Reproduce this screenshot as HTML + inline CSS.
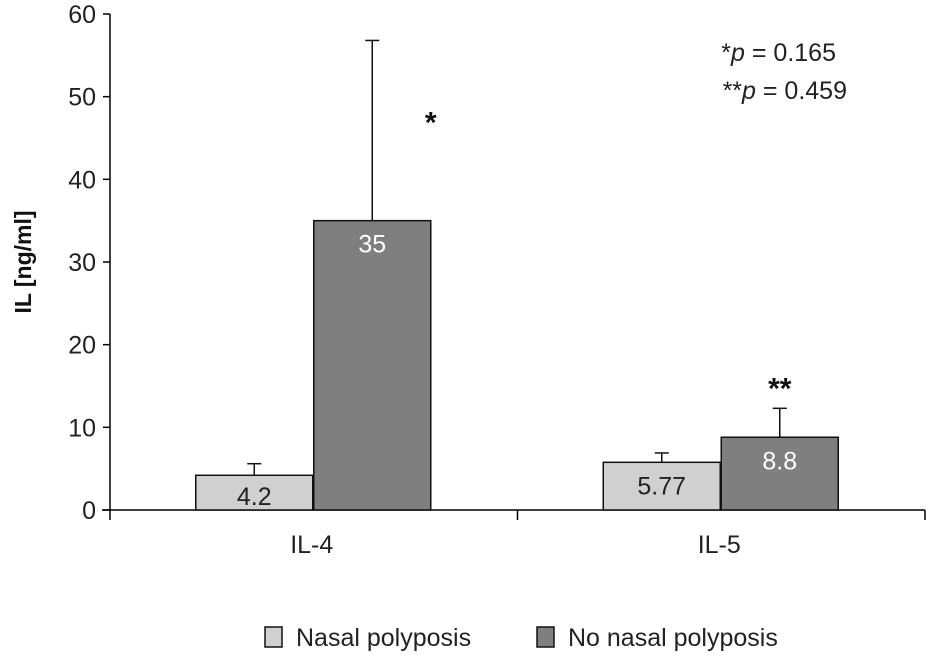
<!DOCTYPE html>
<html><head><meta charset="utf-8"><style>
body{margin:0;background:#fff;}
svg text{font-family:"Liberation Sans",sans-serif;}
</style></head><body>
<svg id="chart" width="928" height="655" xmlns="http://www.w3.org/2000/svg"></svg>
<script>
const categories = ["IL-4", "IL-5"];
const seriesNames = ["Nasal polyposis", "No nasal polyposis"];
const nasalValues = [4.2, 5.77];
const noNasalValues = [35, 8.8];
const nasalErr = [5.6, 6.9];
const noNasalErr = [56.8, 12.3];
const valueLabels = [["4.2", "5.77"], ["35", "8.8"]];
const sigMarks = ["*", "**"];
const yTicks = [0, 10, 20, 30, 40, 50, 60];

const svg = document.getElementById('chart');
const NS = 'http://www.w3.org/2000/svg';
const X0 = 110, X1 = 925, Y0 = 510, Y1 = 14;
const y = v => Y0 - (v / 60) * (Y0 - Y1);
const groupW = (X1 - X0) / categories.length;
const barW = 117;
const colors = ["#d0d0d0", "#7f7f7f"];
const FS = 25;
function el(tag, attrs, text) {
  const e = document.createElementNS(NS, tag);
  for (const k in attrs) e.setAttribute(k, attrs[k]);
  if (text !== undefined) e.textContent = text;
  svg.appendChild(e);
  return e;
}
let a = el('line', {x1: X0, y1: Y1, x2: X0, y2: Y0 + 1, stroke: '#000', 'stroke-width': 1.5});


a = el('line', {x1: X0 - 8, y1: Y0, x2: X1, y2: Y0, stroke: '#000', 'stroke-width': 1.5});


yTicks.forEach(t => {
  const tk = el('line', {x1: X0 - 7, y1: y(t), x2: X0, y2: y(t), stroke: '#000', 'stroke-width': 1.5});
  
  
  const lb = el('text', {x: X0 - 14, y: y(t) + 9, 'text-anchor': 'end', 'font-size': FS, fill: '#222'}, t);
  
  
});
for (let i = 0; i <= categories.length; i++) {
  const tx = X0 + i * groupW;
  const tk = el('line', {x1: tx, y1: Y0, x2: tx, y2: Y0 + 10, stroke: '#000', 'stroke-width': 1.5});
  
  
}
const yt = el('text', {x: 0, y: 0, transform: 'translate(31,262) rotate(-90)', 'text-anchor': 'middle', 'font-size': 23, 'font-weight': 'bold', fill: '#111'}, 'IL [ng/ml]');



categories.forEach((c, i) => {
  const cx = X0 + groupW * (i + 0.5);
  const vals = [nasalValues[i], noNasalValues[i]];
  const errs = [nasalErr[i], noNasalErr[i]];
  vals.forEach((v, s) => {
    const bx = cx - barW + s * barW + (s ? 0 : -1);
    const e1 = el('line', {x1: bx + barW / 2, y1: y(errs[s]), x2: bx + barW / 2, y2: y(v), stroke: '#111', 'stroke-width': 1.5});
    
    
    const e2 = el('line', {x1: bx + barW / 2 - 7, y1: y(errs[s]), x2: bx + barW / 2 + 7, y2: y(errs[s]), stroke: '#111', 'stroke-width': 1.5});
    
    
    const r = el('rect', {x: bx, y: y(v), width: barW, height: Y0 - y(v), fill: colors[s], stroke: '#111', 'stroke-width': 1.5});
    
    
    const ly = y(v) + 32;
    const lt = el('text', {x: bx + barW / 2, y: Math.min(ly, Y0 - 5), 'text-anchor': 'middle', 'font-size': FS, fill: s ? '#fff' : '#222'}, valueLabels[s][i]);
    
    
  });
  const cl = el('text', {x: cx - 2, y: Y0 + 43, 'text-anchor': 'middle', 'font-size': FS, fill: '#222'}, c);
  
  
  const smx = i === 0 ? cx + barW : cx + barW / 2;
  const smy = i === 0 ? y(errs[1]) + 92 : y(errs[1]) - 10;
  const sm = el('text', {x: smx, y: smy, 'text-anchor': 'middle', 'font-size': 30, 'font-weight': 'bold', fill: '#111'}, sigMarks[i]);
  
  
});
const p1 = el('text', {x: 836, y: 61, 'text-anchor': 'end', 'font-size': FS, fill: '#222'});
p1.innerHTML = '*<tspan font-style="italic">p</tspan> = 0.165';


const p2 = el('text', {x: 847, y: 99, 'text-anchor': 'end', 'font-size': FS, fill: '#222'});
p2.innerHTML = '**<tspan font-style="italic">p</tspan> = 0.459';


const lx = [265, 537];
seriesNames.forEach((n, s) => {
  const sw = el('rect', {x: lx[s], y: 627, width: 17, height: 20, fill: colors[s], stroke: '#111', 'stroke-width': 1.5});
  
  
  const t = el('text', {x: lx[s] + 31, y: 646, 'font-size': FS, fill: '#222'}, n);
  
  
});
</script>
</body></html>
